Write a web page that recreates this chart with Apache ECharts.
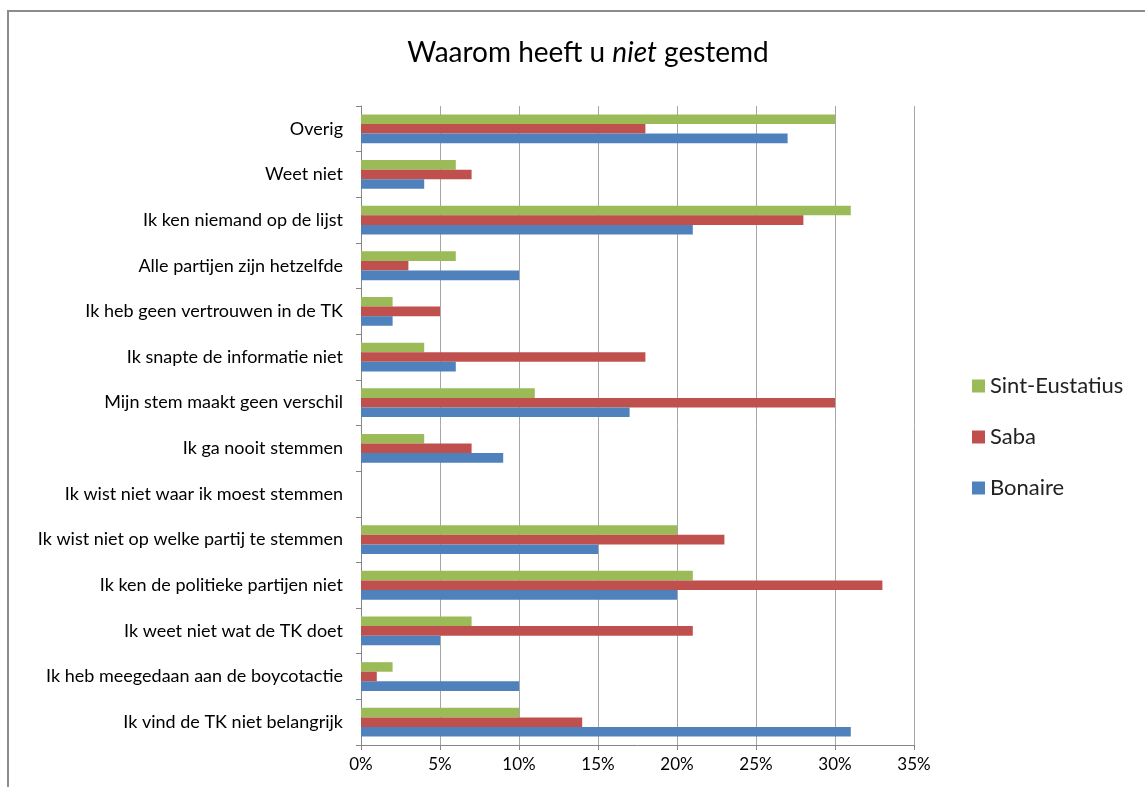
<!DOCTYPE html>
<html>
<head>
<meta charset="utf-8">
<script src="https://cdn.jsdelivr.net/npm/echarts@6/dist/echarts.min.js"></script>
<style>
  html, body { margin: 0; padding: 0; background: #fff; }
  #chart { width: 1145px; height: 787px; }
</style>
</head>
<body>
<div id="chart"></div>
<script>
// categories, bottom to top
var categories = [
  'Ik vind de TK niet belangrijk',
  'Ik heb meegedaan aan de boycotactie',
  'Ik weet niet wat de TK doet',
  'Ik ken de politieke partijen niet',
  'Ik wist niet op welke partij te stemmen',
  'Ik wist niet waar ik moest stemmen',
  'Ik ga nooit stemmen',
  'Mijn stem maakt geen verschil',
  'Ik snapte de informatie niet',
  'Ik heb geen vertrouwen in de TK',
  'Alle partijen zijn hetzelfde',
  'Ik ken niemand op de lijst',
  'Weet niet',
  'Overig'
];
var bonaire       = [31, 10, 5, 20, 15, 0, 9, 17, 6, 2, 10, 21, 4, 27];
var saba          = [14, 1, 21, 33, 23, 0, 7, 30, 18, 5, 3, 28, 7, 18];
var sintEustatius = [10, 2, 7, 21, 20, 0, 4, 11, 4, 2, 6, 31, 6, 30];
var legendOrder = ['Sint-Eustatius', 'Saba', 'Bonaire'];

var font = 'Lato';
var chart = echarts.init(document.getElementById('chart'));

var option = {
  animation: false,
  color: ['#9BBB59', '#C0504D', '#4F81BD'],
  textStyle: { fontFamily: font },
  title: {
    text: '{a|Waarom heeft u }{b|niet}{a| gestemd}',
    left: 583,
    top: 34,
    textAlign: 'center',
    textStyle: {
      fontWeight: 'normal',
      rich: {
        a: { fontSize: 28, fontFamily: font, color: '#000', fontWeight: 'normal' },
        b: { fontSize: 28, fontFamily: font, color: '#000', fontWeight: 'normal', fontStyle: 'italic' }
      }
    }
  },
  graphic: [{
    type: 'rect',
    shape: { x: 8, y: 11, width: 1200, height: 900 },
    style: { fill: 'none', stroke: '#8c8c8c', lineWidth: 2 },
    silent: true
  }],
  legend: {
    data: legendOrder,
    orient: 'vertical',
    left: 967,
    top: 370,
    itemWidth: 13,
    itemHeight: 13,
    itemGap: 29,
    icon: 'rect',
    textStyle: { fontSize: 22, color: '#222', fontFamily: font }
  },
  grid: { left: 361, right: 231, top: 106, bottom: 42 },
  xAxis: {
    type: 'value',
    min: 0,
    max: 35,
    interval: 5,
    axisLine: { show: true, lineStyle: { color: '#868686' } },
    axisTick: { show: true, length: 5, lineStyle: { color: '#868686' } },
    splitLine: { show: true, lineStyle: { color: '#a6a6a6' } },
    axisLabel: { formatter: '{value}%', fontSize: 17, color: '#000', margin: 11 }
  },
  yAxis: {
    type: 'category',
    data: categories,
    axisLine: { show: true, lineStyle: { color: '#868686' } },
    axisTick: { show: true, length: 5, lineStyle: { color: '#868686' } },
    axisLabel: { fontSize: 18, color: '#000', margin: 18 }
  },
  series: [
    { name: 'Sint-Eustatius', type: 'bar', data: sintEustatius, barGap: '0%', barCategoryGap: '37%' },
    { name: 'Saba', type: 'bar', data: saba, barGap: '0%', barCategoryGap: '37%' },
    { name: 'Bonaire', type: 'bar', data: bonaire, barGap: '0%', barCategoryGap: '37%' }
  ]
};
chart.setOption(option);
</script>
</body>
</html>
